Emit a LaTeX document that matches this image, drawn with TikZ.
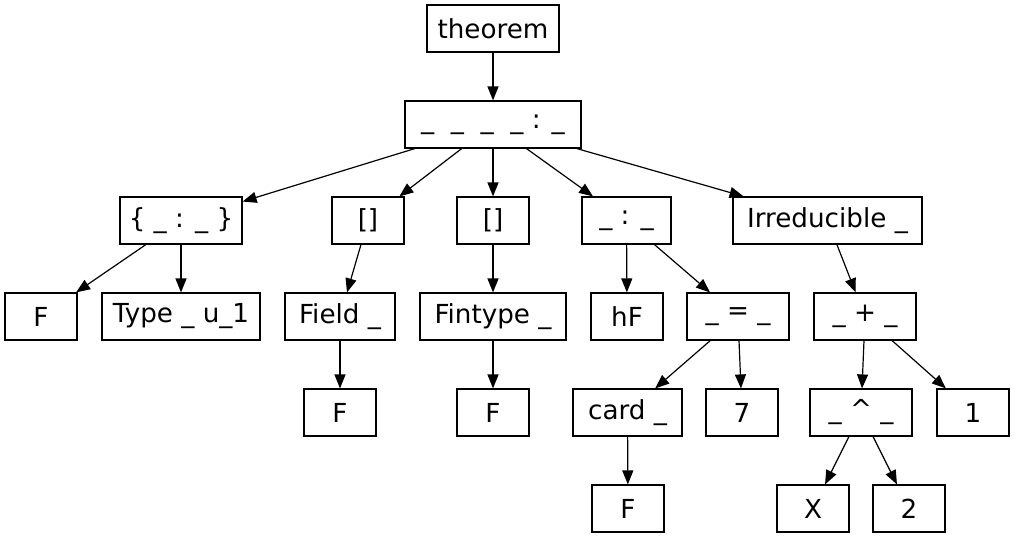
\documentclass[tikz,border=0pt]{standalone}
\usepackage{fontspec}
\setmainfont{DejaVu Sans}
\usetikzlibrary{arrows.meta}

\tikzset{
  box/.style={draw, line width=1.2pt, minimum width=#1, minimum height=47pt,
    inner xsep=0pt, inner ysep=0pt, font=\fontsize{26.2}{30}\selectfont},
  box/.default=72pt,
  edge/.style={line width=1.2pt, -{Triangle[length=14pt,width=11pt]}}
}

\begin{document}
\begin{tikzpicture}[x=1pt,y=-1pt]
        \useasboundingbox (0,0) rectangle (1015,539);
        % Top
        \node[box=132pt] (thm) at (493,28.5) {theorem};
        \node[box=176pt] (root) at (493,124.5) {\_~~\_~~\_~~\_ : \_};
        % Binders
        \node[box=122pt] (set) at (181,220.5) {\{ \_ : \_ \}};
        \node[box] (inst1) at (368,220.5) {[]};
        \node[box] (inst2) at (493,220.5) {[]};
        \node[box=89pt] (hyp) at (626.5,220.5) {\_ : \_};
        \node[box=189pt] (irr) at (827.5,220.5) {Irreducible \_};
        % Third row
        \node[box] (F1) at (41,316.5) {F};
        \node[box=158pt] (type) at (181,316.5) {Type \_ u\_1};
        \node[box=110pt] (field) at (340,316.5) {Field \_};
        \node[box=146pt] (fintype) at (493,316.5) {Fintype \_};
        \node[box] (hF) at (627,316.5) {hF};
        \node[box=102pt] (eq) at (738,316.5) {\_ = \_};
        \node[box=102pt] (plus) at (865,316.5) {\_ + \_};
        % Fourth row
        \node[box] (F2) at (340,412.5) {F};
        \node[box] (F3) at (493,412.5) {F};
        \node[box=109pt] (card) at (627.5,412.5) {card \_};
        \node[box] (seven) at (742,412.5) {7};
        \node[box=102pt] (pow) at (861,412.5) {\_ \textasciicircum{} \_};
        \node[box] (one) at (973,412.5) {1};
        % Bottom
        \node[box] (F4) at (628,508.5) {F};
        \node[box] (X) at (813,508.5) {X};
        \node[box] (two) at (909,508.5) {2};
        % Edges
        \draw[edge] (thm) -- (root);
        \draw[edge] (root) -- (set);
        \draw[edge] (root) -- (inst1);
        \draw[edge] (root) -- (inst2);
        \draw[edge] (root) -- (hyp);
        \draw[edge] (root) -- (irr);
        \draw[edge] (set) -- (F1);
        \draw[edge] (set) -- (type);
        \draw[edge] (inst1) -- (field);
        \draw[edge] (inst2) -- (fintype);
        \draw[edge] (field) -- (F2);
        \draw[edge] (fintype) -- (F3);
        \draw[edge] (hyp) -- (hF);
        \draw[edge] (hyp) -- (eq);
        \draw[edge] (irr) -- (plus);
        \draw[edge] (eq) -- (card);
        \draw[edge] (eq) -- (seven);
        \draw[edge] (card) -- (F4);
        \draw[edge] (plus) -- (pow);
        \draw[edge] (plus) -- (one);
        \draw[edge] (pow) -- (X);
        \draw[edge] (pow) -- (two);
    \end{tikzpicture}
\end{document}
